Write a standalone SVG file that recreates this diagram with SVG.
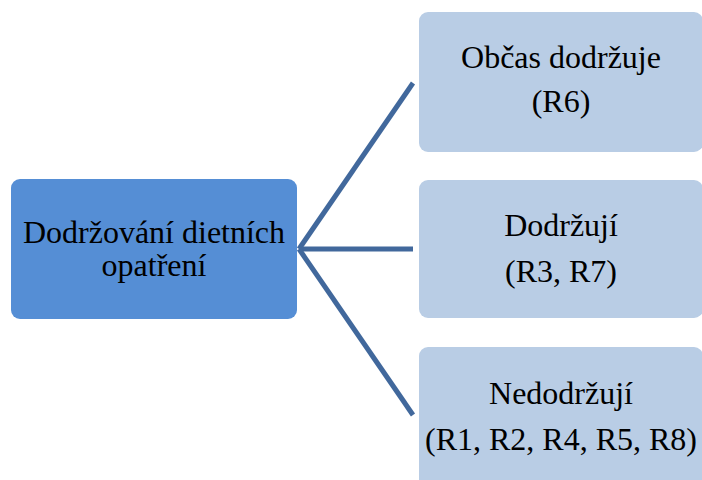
<svg xmlns="http://www.w3.org/2000/svg" width="702" height="480" viewBox="0 0 702 480">
  <style>
    .root { fill: #558ED5; }
    .leaf { fill: #B9CDE5; }
    .label { font-family: "Times New Roman", "Liberation Serif", "DejaVu Serif", serif; font-size: 32px; fill: #000000; text-anchor: middle; }
    .link { stroke: #41689C; stroke-width: 5; fill: none; stroke-linecap: butt; }
  </style>
  <rect width="702" height="480" fill="#FFFFFF"/>

  <g id="connectors">
    <line class="link" x1="299" y1="249" x2="413" y2="83"/>
    <line class="link" x1="299" y1="249" x2="413" y2="249"/>
    <line class="link" x1="299" y1="249" x2="413" y2="415"/>
  </g>

  <g id="node-root">
    <rect class="root" x="11" y="179" width="286" height="140" rx="9"/>
    <text class="label" x="154" y="243">Dodržování dietních</text>
    <text class="label" x="154" y="276">opatření</text>
  </g>

  <g id="node-sometimes">
    <rect class="leaf" x="419" y="12" width="284" height="140" rx="9"/>
    <text class="label" x="561" y="68">Občas dodržuje</text>
    <text class="label" x="561" y="112">(R6)</text>
  </g>

  <g id="node-adhere">
    <rect class="leaf" x="419" y="180" width="284" height="138" rx="9"/>
    <text class="label" x="561" y="236">Dodržují</text>
    <text class="label" x="561" y="282">(R3, R7)</text>
  </g>

  <g id="node-not-adhere">
    <rect class="leaf" x="419" y="347" width="284" height="150" rx="9"/>
    <text class="label" x="561" y="404">Nedodržují</text>
    <text class="label" x="561" y="450">(R1, R2, R4, R5, R8)</text>
  </g>
</svg>
